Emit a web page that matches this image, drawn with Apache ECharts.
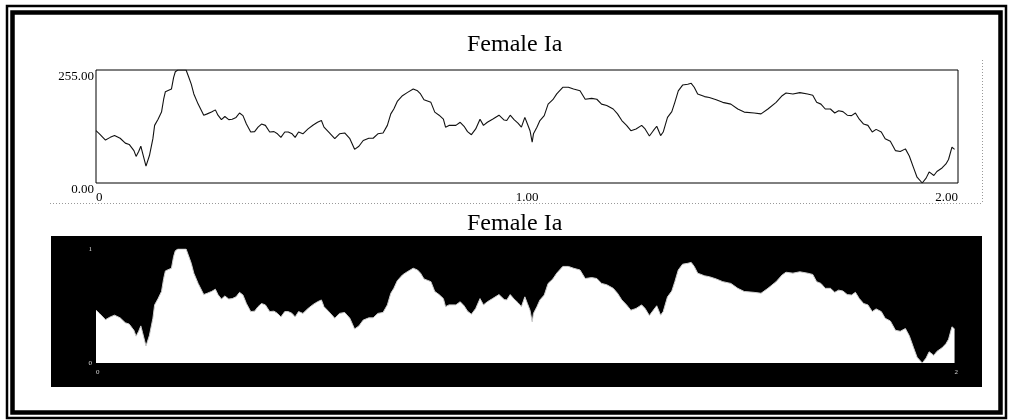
<!DOCTYPE html>
<html>
<head>
<meta charset="utf-8">
<title>Female Ia</title>
<script src="https://cdn.jsdelivr.net/npm/echarts@6/dist/echarts.min.js"></script>
<style>
  html, body { margin: 0; padding: 0; background: #fff; }
  #chart { width: 1011px; height: 420px; }
</style>
</head>
<body>
<div id="chart"></div>
<script>
// Intensity trace sampled over 0 .. 2.00 s
const times = [
  0,0.008,0.022,0.033,0.043,0.056,0.068,0.077,0.088,0.093,
  0.099,0.104,0.108,0.116,0.124,0.132,0.136,0.144,0.152,0.157,
  0.161,0.175,0.180,0.184,0.190,0.209,0.214,0.221,0.227,0.237,
  0.250,0.258,0.268,0.277,0.283,0.291,0.299,0.308,0.316,0.325,
  0.333,0.341,0.349,0.359,0.368,0.376,0.384,0.393,0.403,0.413,
  0.421,0.429,0.438,0.446,0.455,0.462,0.470,0.480,0.492,0.504,
  0.514,0.523,0.529,0.540,0.554,0.565,0.577,0.589,0.600,0.610,
  0.620,0.633,0.643,0.654,0.666,0.676,0.684,0.691,0.699,0.711,
  0.722,0.736,0.746,0.753,0.761,0.777,0.786,0.796,0.806,0.811,
  0.819,0.835,0.845,0.854,0.862,0.871,0.881,0.891,0.899,0.908,
  0.920,0.935,0.947,0.953,0.961,0.970,0.979,0.987,0.995,1.001,
  1.007,1.012,1.015,1.023,1.030,1.040,1.049,1.060,1.069,1.083,
  1.096,1.108,1.123,1.135,1.150,1.162,1.173,1.185,1.200,1.210,
  1.220,1.231,1.241,1.253,1.266,1.274,1.284,1.293,1.301,1.310,
  1.316,1.326,1.336,1.343,1.351,1.353,1.361,1.373,1.381,1.388,
  1.396,1.412,1.423,1.439,1.454,1.473,1.489,1.504,1.527,1.543,
  1.559,1.578,1.592,1.601,1.617,1.633,1.651,1.663,1.672,1.682,
  1.692,1.704,1.714,1.723,1.733,1.743,1.753,1.762,1.771,1.781,
  1.791,1.801,1.810,1.822,1.831,1.843,1.855,1.866,1.878,1.887,
  1.897,1.905,1.917,1.926,1.933,1.944,1.951,1.963,1.972,1.978,
  1.986,1.992
];

const intensity = [
  118,111,97,103,107,101,90,87,73,60,
  71,83,68,38,62,100,130,144,160,189,
  206,212,238,251,255,255,242,223,201,178,
  153,156,160,165,153,143,150,143,144,148,
  158,152,133,115,116,126,133,130,115,116,
  111,103,115,115,111,103,115,111,122,131,
  137,141,126,115,100,111,113,100,76,83,
  96,101,101,111,113,130,156,167,184,197,
  204,212,208,201,188,182,160,153,144,126,
  130,130,137,128,116,109,122,144,130,137,
  144,153,142,141,153,143,135,126,148,133,
  118,92,111,126,141,152,178,188,201,216,
  216,212,208,189,191,189,178,175,167,156,
  141,130,118,122,130,122,106,118,128,107,
  115,148,161,182,208,212,221,223,225,216,
  201,195,193,188,182,178,167,160,158,156,
  167,182,197,203,201,204,201,198,182,178,
  167,167,158,163,161,153,152,158,144,133,
  130,115,121,115,100,94,73,71,77,61,
  34,13,0,11,25,17,26,34,43,53,
  81,76
];

const titleText = 'Female Ia';
const topYMax = 255;
const topYLabels = { 0: '0.00', 255: '255.00' };
const topXLabels = { 0: '0', 1: '1.00', 2: '2.00' };
const bottomYLabels = { 0: '0', 1: '1' };
const bottomXLabels = { 0: '0', 2: '2' };

const serif = '"Liberation Serif", "DejaVu Serif", serif';

const topData = times.map((t, i) => [t, intensity[i]]);
const bottomData = times.map((t, i) => [t, intensity[i] / topYMax]);

const chart = echarts.init(document.getElementById('chart'), null, { renderer: 'canvas' });

const titleStyle = { fontFamily: serif, fontSize: 24, fontWeight: 'normal', color: '#000' };

chart.setOption({
  backgroundColor: '#fff',
  animation: false,
  title: [
    { text: titleText, left: 467, top: 33, padding: 0, textStyle: titleStyle },
    { text: titleText, left: 467, top: 212, padding: 0, textStyle: titleStyle }
  ],
  graphic: [
    // page frame
    { type: 'rect', z: 0, shape: { x: 7, y: 6, width: 999, height: 412 },
      style: { fill: null, stroke: '#000', lineWidth: 2.5 } },
    { type: 'rect', z: 0, shape: { x: 12.5, y: 12.5, width: 988, height: 400 },
      style: { fill: null, stroke: '#000', lineWidth: 4.5 } },
    // dotted panel edges around the upper plot
    { type: 'line', z: 0, shape: { x1: 50, y1: 203.5, x2: 982, y2: 203.5 },
      style: { stroke: '#999', lineWidth: 1, lineDash: [1, 2] } },
    { type: 'line', z: 0, shape: { x1: 982.5, y1: 60, x2: 982.5, y2: 203 },
      style: { stroke: '#999', lineWidth: 1, lineDash: [1, 2] } },
    // dark panel behind the lower plot
    { type: 'rect', z: 0, shape: { x: 51, y: 236, width: 931, height: 151 },
      style: { fill: '#000' } }
  ],
  grid: [
    { left: 96, right: 53, top: 70, height: 113, show: true,
      borderColor: '#000', borderWidth: 1, backgroundColor: 'transparent' },
    { left: 96, right: 53, top: 249, height: 114, show: true,
      borderColor: '#bbb', borderWidth: 1, backgroundColor: 'transparent' }
  ],
  xAxis: [
    { type: 'value', gridIndex: 0, min: 0, max: 2, interval: 1,
      axisLine: { show: false }, axisTick: { show: false }, splitLine: { show: false },
      axisLabel: { fontFamily: serif, fontSize: 13, color: '#000', margin: 8,
        alignMinLabel: 'left', alignMaxLabel: 'right',
        formatter: v => topXLabels[v] ?? '' } },
    { type: 'value', gridIndex: 1, min: 0, max: 2, interval: 2,
      axisLine: { show: false }, axisTick: { show: false }, splitLine: { show: false },
      axisLabel: { fontFamily: serif, fontSize: 7, color: '#ddd', margin: 6,
        alignMinLabel: 'left', alignMaxLabel: 'right',
        formatter: v => bottomXLabels[v] ?? '' } }
  ],
  yAxis: [
    { type: 'value', gridIndex: 0, min: 0, max: topYMax, interval: topYMax,
      axisLine: { show: false }, axisTick: { show: false }, splitLine: { show: false },
      axisLabel: { fontFamily: serif, fontSize: 13, color: '#000', margin: 2,
        verticalAlign: 'top', formatter: v => topYLabels[v] ?? '' } },
    { type: 'value', gridIndex: 1, min: 0, max: 1, interval: 1,
      axisLine: { show: false }, axisTick: { show: false }, splitLine: { show: false },
      axisLabel: { fontFamily: serif, fontSize: 7, color: '#ddd', margin: 4,
        formatter: v => bottomYLabels[v] ?? '' } }
  ],
  series: [
    { type: 'line', xAxisIndex: 0, yAxisIndex: 0, data: topData,
      showSymbol: false, smooth: false, z: 3,
      lineStyle: { color: '#111', width: 1.1 } },
    { type: 'line', xAxisIndex: 1, yAxisIndex: 1, data: bottomData,
      showSymbol: false, smooth: false, z: 3,
      lineStyle: { color: '#ccc', width: 1 },
      areaStyle: { color: '#fff', opacity: 1 } }
  ]
});
</script>
</body>
</html>
